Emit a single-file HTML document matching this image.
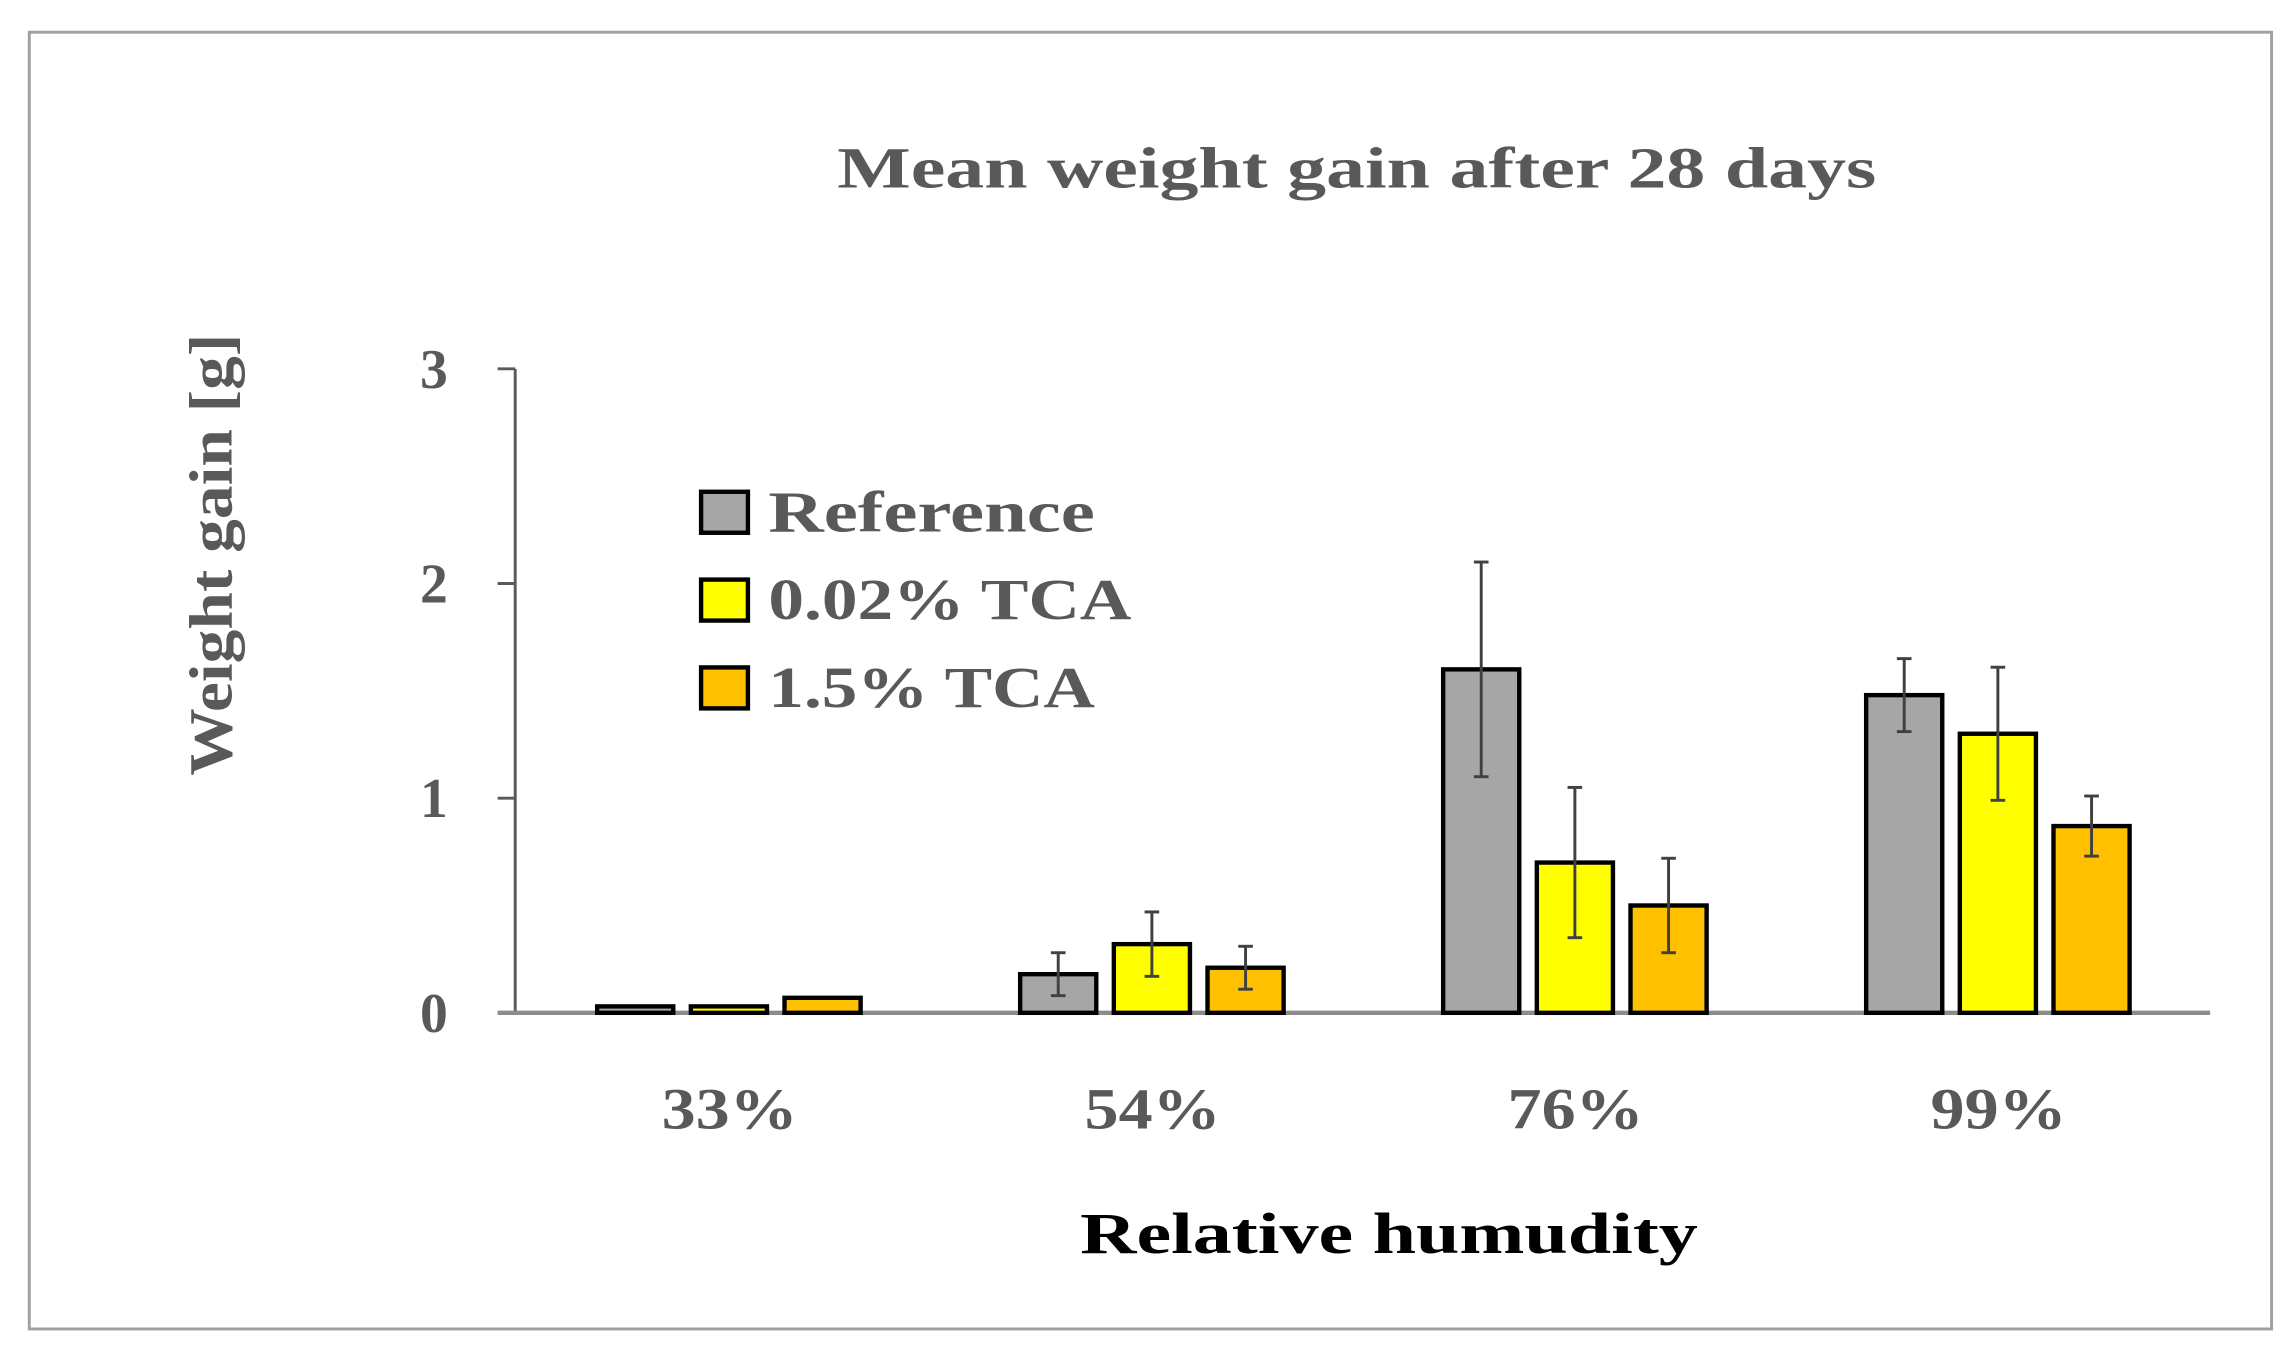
<!DOCTYPE html>
<html><head><meta charset="utf-8"><style>
html,body{margin:0;padding:0;background:#fff;}
svg{display:block;}
text{font-family:"Liberation Serif",serif;font-weight:bold;}
</style></head><body>
<svg id="chart" width="2295" height="1366" viewBox="0 0 1568 933.3" preserveAspectRatio="none" xmlns="http://www.w3.org/2000/svg">
<rect x="20" y="22" width="1532" height="886" fill="#fff" stroke="#a0a0a0" stroke-width="2"/>
<text x="572" y="128" font-size="40" fill="#595959" textLength="710" lengthAdjust="spacingAndGlyphs">Mean weight gain after 28 days</text>
<text transform="translate(158,530) rotate(-90)" font-size="42" fill="#595959" textLength="302" lengthAdjust="spacingAndGlyphs">Weight gain [g]</text>
<text x="738" y="856" font-size="40" fill="#000" textLength="422" lengthAdjust="spacingAndGlyphs">Relative humudity</text>
<g id="axes"></g>
<g id="bars"></g>
<g>
  <rect x="479" y="336" width="32" height="28" fill="#a6a6a6" stroke="#000" stroke-width="3"/>
  <text x="525" y="363" font-size="40" fill="#595959" textLength="223" lengthAdjust="spacingAndGlyphs">Reference</text>
  <rect x="479" y="396" width="32" height="28" fill="#ffff00" stroke="#000" stroke-width="3"/>
  <text x="525" y="423" font-size="40" fill="#595959" textLength="248" lengthAdjust="spacingAndGlyphs">0.02% TCA</text>
  <rect x="479" y="456" width="32" height="28" fill="#ffc000" stroke="#000" stroke-width="3"/>
  <text x="525" y="483" font-size="40" fill="#595959" textLength="223" lengthAdjust="spacingAndGlyphs">1.5% TCA</text>
</g>
</svg>
<script>
const categories = ["33%","54%","76%","99%"];
const seriesNames = ["Reference","0.02% TCA","1.5% TCA"];
const refValues = [0.03,0.18,1.6,1.48];
const tca002Values = [0.03,0.32,0.7,1.3];
const tca15Values = [0.07,0.21,0.5,0.87];
const refErr = [0,0.1,0.5,0.17];
const tca002Err = [0,0.15,0.35,0.31];
const tca15Err = [0,0.1,0.22,0.14];
const yTicks = [0,1,2,3];
const colors = ["#a6a6a6","#ffff00","#ffc000"];

const NS="http://www.w3.org/2000/svg";
const y0=692, yTop=252, yMax=3;
const yScale=v=>y0-(v/yMax)*(y0-yTop);
const groupX=i=>498+i*289;
function mk(tag,attrs,parent){const e=document.createElementNS(NS,tag);for(const k in attrs)e.setAttribute(k,attrs[k]);parent.appendChild(e);return e;}
const axes=document.getElementById('axes');
const bars=document.getElementById('bars');

const yl=mk('line',{x1:352,y1:yScale(yMax),x2:352,y2:y0,stroke:'#595959','stroke-width':2},axes);


yTicks.forEach(t=>{
  const tk=mk('line',{x1:340,y1:yScale(t),x2:352,y2:yScale(t),stroke:'#595959','stroke-width':2},axes);
  
  
  const tx=mk('text',{x:306,y:yScale(t)+13,'font-size':38,fill:'#595959','text-anchor':'end'},axes);
  tx.textContent=t;
  
  
});
categories.forEach((c,i)=>{
  const tx=mk('text',{x:groupX(i)-46,y:771,'font-size':40,fill:'#595959',textLength:93,lengthAdjust:'spacingAndGlyphs'},axes);
  tx.textContent=c;
  
  
});

const series=[refValues,tca002Values,tca15Values];
const errs=[refErr,tca002Err,tca15Err];
const bw=52, pitch=64;
series.forEach((vals,s)=>{
  vals.forEach((v,i)=>{
    const cx=groupX(i)+(s-1)*pitch;
    const r=mk('rect',{x:cx-bw/2,y:yScale(v),width:bw,height:y0-yScale(v),fill:colors[s],stroke:'#000','stroke-width':3},bars);
    
    
    const e=errs[s][i];
    if(e>0){
      const g=mk('g',{stroke:'#404040','stroke-width':2},bars);
      
      
      mk('line',{x1:cx,y1:yScale(v+e),x2:cx,y2:yScale(v-e)},g);
      mk('line',{x1:cx-5,y1:yScale(v+e),x2:cx+5,y2:yScale(v+e)},g);
      mk('line',{x1:cx-5,y1:yScale(v-e),x2:cx+5,y2:yScale(v-e)},g);
    }
  });
});
const xl=mk('line',{x1:340,y1:y0,x2:1510,y2:y0,stroke:'#8c8c8c','stroke-width':3},axes);


</script>
</body></html>
